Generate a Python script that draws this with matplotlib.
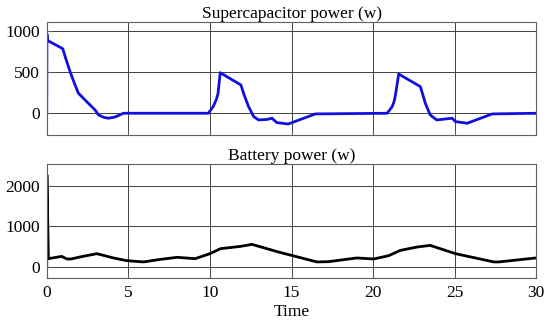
import matplotlib
matplotlib.use("Agg")
import matplotlib.pyplot as plt

plt.rcParams["font.family"] = ["Liberation Serif", "DejaVu Serif"]

# Supercapacitor power (w)
sc_t = [0.0, 0.01, 0.05, 0.98, 1.2, 1.43, 1.7, 1.94, 2.5, 2.96, 3.17, 3.5, 3.79, 4.19, 4.7,
        9.9, 10.2, 10.4, 10.5, 10.63, 11.9, 12.1, 12.37, 12.68, 12.98, 13.5, 13.8, 14.1,
        14.8, 16.46, 20.86, 21.17, 21.3, 21.37, 21.57, 22.9, 23.2, 23.5, 23.9,
        24.85, 25.05, 25.77, 27.3, 30.0]
sc_p = [0, 960, 880, 781, 640, 503, 360, 242, 130, 40, -20, -50, -60, -45, 0,
        0, 80, 170, 242, 491, 342, 220, 80, -40, -81, -75, -60, -113,
        -130, -8, 0, 80, 150, 221, 475, 322, 121, -20, -81,
        -60, -101, -121, -8, 0]

# Battery power (w)
bat_t = [0.0, 0.01, 0.1, 0.92, 1.23, 1.5, 2.04, 3.07, 4.09, 4.9, 5.93, 6.85,
         7.98, 9.1, 10.0, 10.43, 10.64, 11.86, 12.58, 14.2, 16.56, 17.27,
         19.0, 20.04, 20.96, 21.67, 22.7, 23.5, 25.05, 27.4, 27.7, 29.97]
bat_p = [0, 2270, 204, 260, 196, 196, 246, 327, 221, 155, 123, 180,
         237, 204, 327, 408, 450, 506, 556, 368, 123, 130,
         221, 196, 278, 408, 491, 531, 327, 123, 123, 221]

fig = plt.figure(figsize=(5.5, 3.22), dpi=100)
ax1 = fig.add_axes([0.085, 0.581, 0.89, 0.351])
ax2 = fig.add_axes([0.085, 0.137, 0.89, 0.354])

for ax in (ax1, ax2):
    ax.set_xlim(0, 30)
    ax.set_xticks(range(0, 31, 5))
    ax.grid(True, color="#404040", linewidth=0.7)
    ax.tick_params(direction="in", length=3, labelsize=12.5, color="#606060", pad=5)
    for s in ax.spines.values():
        s.set_color("#606060")
        s.set_linewidth(0.8)

ax1.plot(sc_t, sc_p, color="#1010dd", linewidth=2)
ax1.set_ylim(-262, 1105)
ax1.set_yticks([0, 500, 1000])
ax1.tick_params(labelbottom=False)
ax1.set_title("Supercapacitor power (w)", fontsize=12.5, pad=2)

ax2.plot(bat_t, bat_p, color="black", linewidth=2)
ax2.set_ylim(-270, 2540)
ax2.set_yticks([0, 1000, 2000])
ax2.set_title("Battery power (w)", fontsize=12.5, pad=2)
ax2.set_xlabel("Time", fontsize=12.5, labelpad=2)

fig.savefig("out.png", dpi=100)
